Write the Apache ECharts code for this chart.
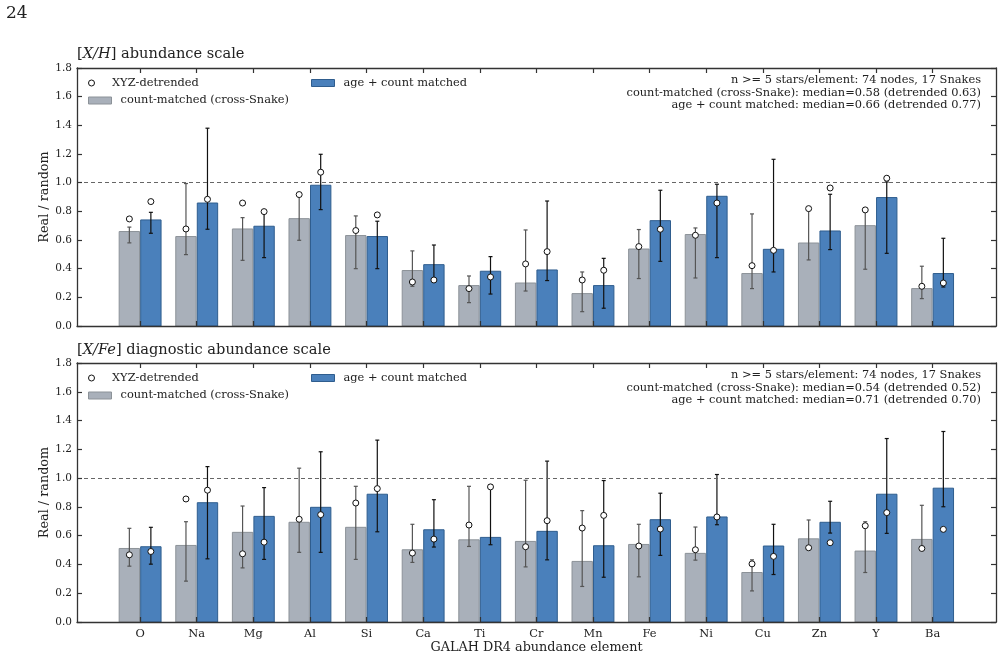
<!DOCTYPE html>
<html>
<head>
<meta charset="utf-8">
<script src="https://cdn.jsdelivr.net/npm/echarts@6/dist/echarts.min.js"></script>
<style>
  html, body { margin: 0; padding: 0; background: #fff; }
  #chart { width: 1002px; height: 657px; }
</style>
</head>
<body>
<div id="chart"></div>
<script>
// element order on the x axis
var elements = ["O", "Na", "Mg", "Al", "Si", "Ca", "Ti", "Cr", "Mn", "Fe", "Ni", "Cu", "Zn", "Y", "Ba"];
var yTicks = [0, 0.2, 0.4, 0.6, 0.8, 1.0, 1.2, 1.4, 1.6, 1.8];

// [X/H] panel
var countH     = [0.659, 0.624, 0.677, 0.749, 0.631, 0.387, 0.282, 0.300, 0.226, 0.537, 0.638, 0.366, 0.579, 0.700, 0.261];
var countHLo   = [0.580, 0.498, 0.458, 0.598, 0.400, 0.277, 0.163, 0.244, 0.100, 0.331, 0.335, 0.261, 0.461, 0.396, 0.191];
var countHHi   = [0.690, 0.994, 0.756, 0.910, 0.768, 0.524, 0.349, 0.670, 0.377, 0.673, 0.684, 0.782, 0.819, 0.810, 0.417];
var countHDetr = [0.747, 0.677, 0.858, 0.917, 0.666, 0.307, 0.261, 0.433, 0.321, 0.554, 0.633, 0.421, 0.819, 0.810, 0.277];
var ageH       = [0.740, 0.858, 0.696, 0.982, 0.624, 0.428, 0.382, 0.391, 0.282, 0.735, 0.905, 0.535, 0.663, 0.896, 0.366];
var ageHLo     = [0.647, 0.675, 0.477, 0.812, 0.400, 0.315, 0.223, 0.317, 0.124, 0.451, 0.477, 0.377, 0.533, 0.507, 0.272];
var ageHHi     = [0.793, 1.380, 0.793, 1.198, 0.731, 0.565, 0.484, 0.872, 0.472, 0.947, 0.989, 1.163, 0.919, 1.005, 0.612];
var ageHDetr   = [0.868, 0.884, 0.798, 1.073, 0.775, 0.321, 0.342, 0.519, 0.389, 0.675, 0.858, 0.528, 0.963, 1.031, 0.300];

// [X/Fe] panel
var countFe     = [0.511, 0.532, 0.623, 0.693, 0.658, 0.502, 0.571, 0.560, 0.421, 0.539, 0.477, 0.344, 0.578, 0.493, 0.574];
var countFeLo   = [0.388, 0.284, 0.376, 0.484, 0.435, 0.414, 0.525, 0.383, 0.247, 0.314, 0.430, 0.216, 0.516, 0.344, 0.511];
var countFeHi   = [0.651, 0.697, 0.806, 1.069, 0.943, 0.679, 0.943, 0.985, 0.774, 0.679, 0.660, 0.432, 0.709, 0.697, 0.811];
var countFeDetr = [0.467, 0.855, 0.474, 0.714, 0.827, 0.479, 0.674, 0.523, 0.653, 0.528, 0.502, 0.404, 0.516, 0.669, 0.511];
var ageFe       = [0.523, 0.829, 0.734, 0.797, 0.888, 0.641, 0.588, 0.630, 0.530, 0.711, 0.730, 0.528, 0.693, 0.888, 0.930];
var ageFeLo     = [0.402, 0.439, 0.435, 0.484, 0.627, 0.521, 0.537, 0.432, 0.311, 0.463, 0.676, 0.330, 0.618, 0.616, 0.801];
var ageFeHi     = [0.658, 1.080, 0.934, 1.183, 1.264, 0.850, 0.955, 1.118, 0.983, 0.895, 1.025, 0.679, 0.839, 1.275, 1.324];
var ageFeDetr   = [0.490, 0.916, 0.555, 0.746, 0.927, 0.576, 0.939, 0.704, 0.741, 0.646, 0.730, 0.456, 0.551, 0.760, 0.644];

var annoH = [
  "n >= 5 stars/element: 74 nodes, 17 Snakes",
  "count-matched (cross-Snake): median=0.58 (detrended 0.63)",
  "age + count matched: median=0.66 (detrended 0.77)"
];
var annoFe = [
  "n >= 5 stars/element: 74 nodes, 17 Snakes",
  "count-matched (cross-Snake): median=0.54 (detrended 0.52)",
  "age + count matched: median=0.71 (detrended 0.70)"
];

var FONT = "DejaVu Serif";
var GRAY = "#a9b0ba", GRAY_EDGE = "#8c9298";
var BLUE = "#4a80bb", BLUE_EDGE = "#2f5d8e";
var BAR_W = 0.36, OFF = 0.19;
var idx = elements.map(function (e, i) { return i; });

function barSeries(name, vals, off, fill, edge, gi) {
  return {
    name: name,
    type: "custom",
    xAxisIndex: gi * 2,
    yAxisIndex: gi * 2,
    z: 2,
    itemStyle: { color: fill, borderColor: edge },
    encode: { x: 0, y: 1 },
    data: vals.map(function (v, i) { return [i + off, v]; }),
    renderItem: function (params, api) {
      var x = api.value(0), v = api.value(1);
      var p0 = api.coord([x, 0]);
      var p1 = api.coord([x, v]);
      var w = api.size([BAR_W, 0])[0];
      return {
        type: "rect",
        shape: { x: p0[0] - w / 2, y: p1[1], width: w, height: p0[1] - p1[1] },
        style: { fill: fill, stroke: edge, lineWidth: 1 }
      };
    }
  };
}

function errSeries(lo, hi, off, color, gi) {
  return {
    type: "custom",
    xAxisIndex: gi * 2,
    yAxisIndex: gi * 2,
    z: 3,
    silent: true,
    encode: { x: 0, y: [1, 2] },
    data: lo.map(function (v, i) { return [i + off, v, hi[i]]; }),
    renderItem: function (params, api) {
      var x = api.value(0);
      var a = api.coord([x, api.value(1)]);
      var b = api.coord([x, api.value(2)]);
      var st = { stroke: color, lineWidth: 1.2 };
      return {
        type: "group",
        children: [
          { type: "line", shape: { x1: a[0], y1: a[1], x2: b[0], y2: b[1] }, style: st },
          { type: "line", shape: { x1: a[0] - 2, y1: a[1], x2: a[0] + 2, y2: a[1] }, style: st },
          { type: "line", shape: { x1: b[0] - 2, y1: b[1], x2: b[0] + 2, y2: b[1] }, style: st }
        ]
      };
    }
  };
}

function detrSeries(vals, off, gi) {
  return {
    name: "XYZ-detrended",
    type: "scatter",
    xAxisIndex: gi * 2,
    yAxisIndex: gi * 2,
    z: 4,
    symbol: "circle",
    symbolSize: 6,
    itemStyle: { color: "#fff", borderColor: "#111", borderWidth: 1, opacity: 1 },
    data: vals.map(function (v, i) { return [i + off, v]; })
  };
}

function panelSeries(gi, c, cLo, cHi, cD, a, aLo, aHi, aD) {
  var gray = barSeries("count-matched (cross-Snake)", c, -OFF, GRAY, GRAY_EDGE, gi);
  gray.markLine = {
    silent: true,
    symbol: "none",
    label: { show: false },
    lineStyle: { color: "#666", type: [4, 3], width: 1 },
    data: [{ yAxis: 1.0 }]
  };
  return [
    gray,
    barSeries("age + count matched", a, OFF, BLUE, BLUE_EDGE, gi),
    errSeries(cLo, cHi, -OFF, "#555", gi),
    errSeries(aLo, aHi, OFF, "#111", gi),
    detrSeries(cD, -OFF, gi),
    detrSeries(aD, OFF, gi)
  ];
}

var frame = { show: true, onZero: false, lineStyle: { color: "#333", width: 1.3 } };

function xAxes(gi, withLabels) {
  var base = {
    type: "value",
    gridIndex: gi,
    min: -1.115,
    max: 15.12,
    splitLine: { show: false },
    axisLine: frame,
    axisTick: { show: true, inside: true, length: 5, customValues: idx, lineStyle: { color: "#333", width: 1.2 } },
    z: 10
  };
  var bottom = Object.assign({}, base, {
    position: "bottom",
    axisLabel: withLabels ? {
      show: true, customValues: idx, margin: 7,
      fontFamily: FONT, fontSize: 11.4, color: "#222",
      formatter: function (v) { return elements[Math.round(v)]; }
    } : { show: false }
  });
  if (withLabels) {
    bottom.name = "GALAH DR4 abundance element";
    bottom.nameLocation = "middle";
    bottom.nameGap = 19;
    bottom.nameMoveOverlap = false;
    bottom.nameTextStyle = { fontFamily: FONT, fontSize: 12.8, color: "#222" };
  }
  var top = Object.assign({}, base, { position: "top", axisLabel: { show: false } });
  return [bottom, top];
}

function yAxes(gi) {
  var base = {
    type: "value",
    gridIndex: gi,
    min: 0,
    max: 1.8,
    interval: 0.2,
    splitLine: { show: false },
    axisLine: frame,
    axisTick: { show: true, inside: true, length: 5, lineStyle: { color: "#333", width: 1.2 } },
    z: 10
  };
  var left = Object.assign({}, base, {
    position: "left",
    name: "Real / random",
    nameLocation: "middle",
    nameGap: 26,
    nameMoveOverlap: false,
    nameTextStyle: { fontFamily: FONT, fontSize: 12.8, color: "#222" },
    axisLabel: {
      show: true, margin: 5, fontFamily: FONT, fontSize: 10.5, color: "#222",
      formatter: function (v) { return v.toFixed(1); }
    }
  });
  var right = Object.assign({}, base, { position: "right", axisLabel: { show: false } });
  return [left, right];
}

function legends(topY) {
  var ts = { fontFamily: FONT, fontSize: 11.4, color: "#222", padding: [0, 0, 0, 4] };
  return [
    {
      left: 88, top: topY, itemWidth: 23, itemHeight: 6, padding: 0,
      textStyle: ts, selectedMode: false,
      data: [{ name: "XYZ-detrended", icon: "circle", itemStyle: { color: "#fff", borderColor: "#111", borderWidth: 1 } }]
    },
    {
      left: 88, top: topY + 17.5, itemWidth: 23, itemHeight: 7, padding: 0,
      textStyle: ts, selectedMode: false,
      data: [{ name: "count-matched (cross-Snake)", icon: "rect", itemStyle: { color: GRAY, borderColor: GRAY_EDGE, borderWidth: 1 } }]
    },
    {
      left: 311, top: topY, itemWidth: 23, itemHeight: 7, padding: 0,
      textStyle: ts, selectedMode: false,
      data: [{ name: "age + count matched", icon: "rect", itemStyle: { color: BLUE, borderColor: BLUE_EDGE, borderWidth: 1 } }]
    }
  ];
}

function annoTitles(lines, topY) {
  return lines.map(function (t, i) {
    return {
      text: t, right: 21, top: topY + i * 12.6, padding: 0,
      textStyle: { fontFamily: FONT, fontSize: 11.4, fontWeight: "normal", color: "#222" }
    };
  });
}

var titleRich = {
  i: { fontFamily: FONT, fontStyle: "italic", fontWeight: "normal", fontSize: 14.6, color: "#222" },
  n: { fontFamily: FONT, fontWeight: "normal", fontSize: 14.6, color: "#222" }
};

var option = {
  animation: false,
  backgroundColor: "#fff",
  title: [
    { text: "24", left: 6, top: 5, padding: 0, textStyle: { fontFamily: FONT, fontSize: 17, fontWeight: "normal", color: "#222" } },
    { text: "{n|[}{i|X/H}{n|] abundance scale}", left: 77, top: 47, padding: 0, textStyle: { fontWeight: "normal", rich: titleRich } },
    { text: "{n|[}{i|X/Fe}{n|] diagnostic abundance scale}", left: 77, top: 343, padding: 0, textStyle: { fontWeight: "normal", rich: titleRich } }
  ].concat(annoTitles(annoH, 74.5), annoTitles(annoFe, 369.5)),
  legend: legends(77.5).concat(legends(372.5)),
  grid: [
    { left: 77, top: 68, width: 919, height: 258 },
    { left: 77, top: 363, width: 919, height: 259 }
  ],
  xAxis: xAxes(0, false).concat(xAxes(1, true)),
  yAxis: yAxes(0).concat(yAxes(1)),
  series: panelSeries(0, countH, countHLo, countHHi, countHDetr, ageH, ageHLo, ageHHi, ageHDetr)
    .concat(panelSeries(1, countFe, countFeLo, countFeHi, countFeDetr, ageFe, ageFeLo, ageFeHi, ageFeDetr))
};

var chart = echarts.init(document.getElementById("chart"), null, { renderer: "canvas" });
chart.setOption(option);
</script>
</body>
</html>
